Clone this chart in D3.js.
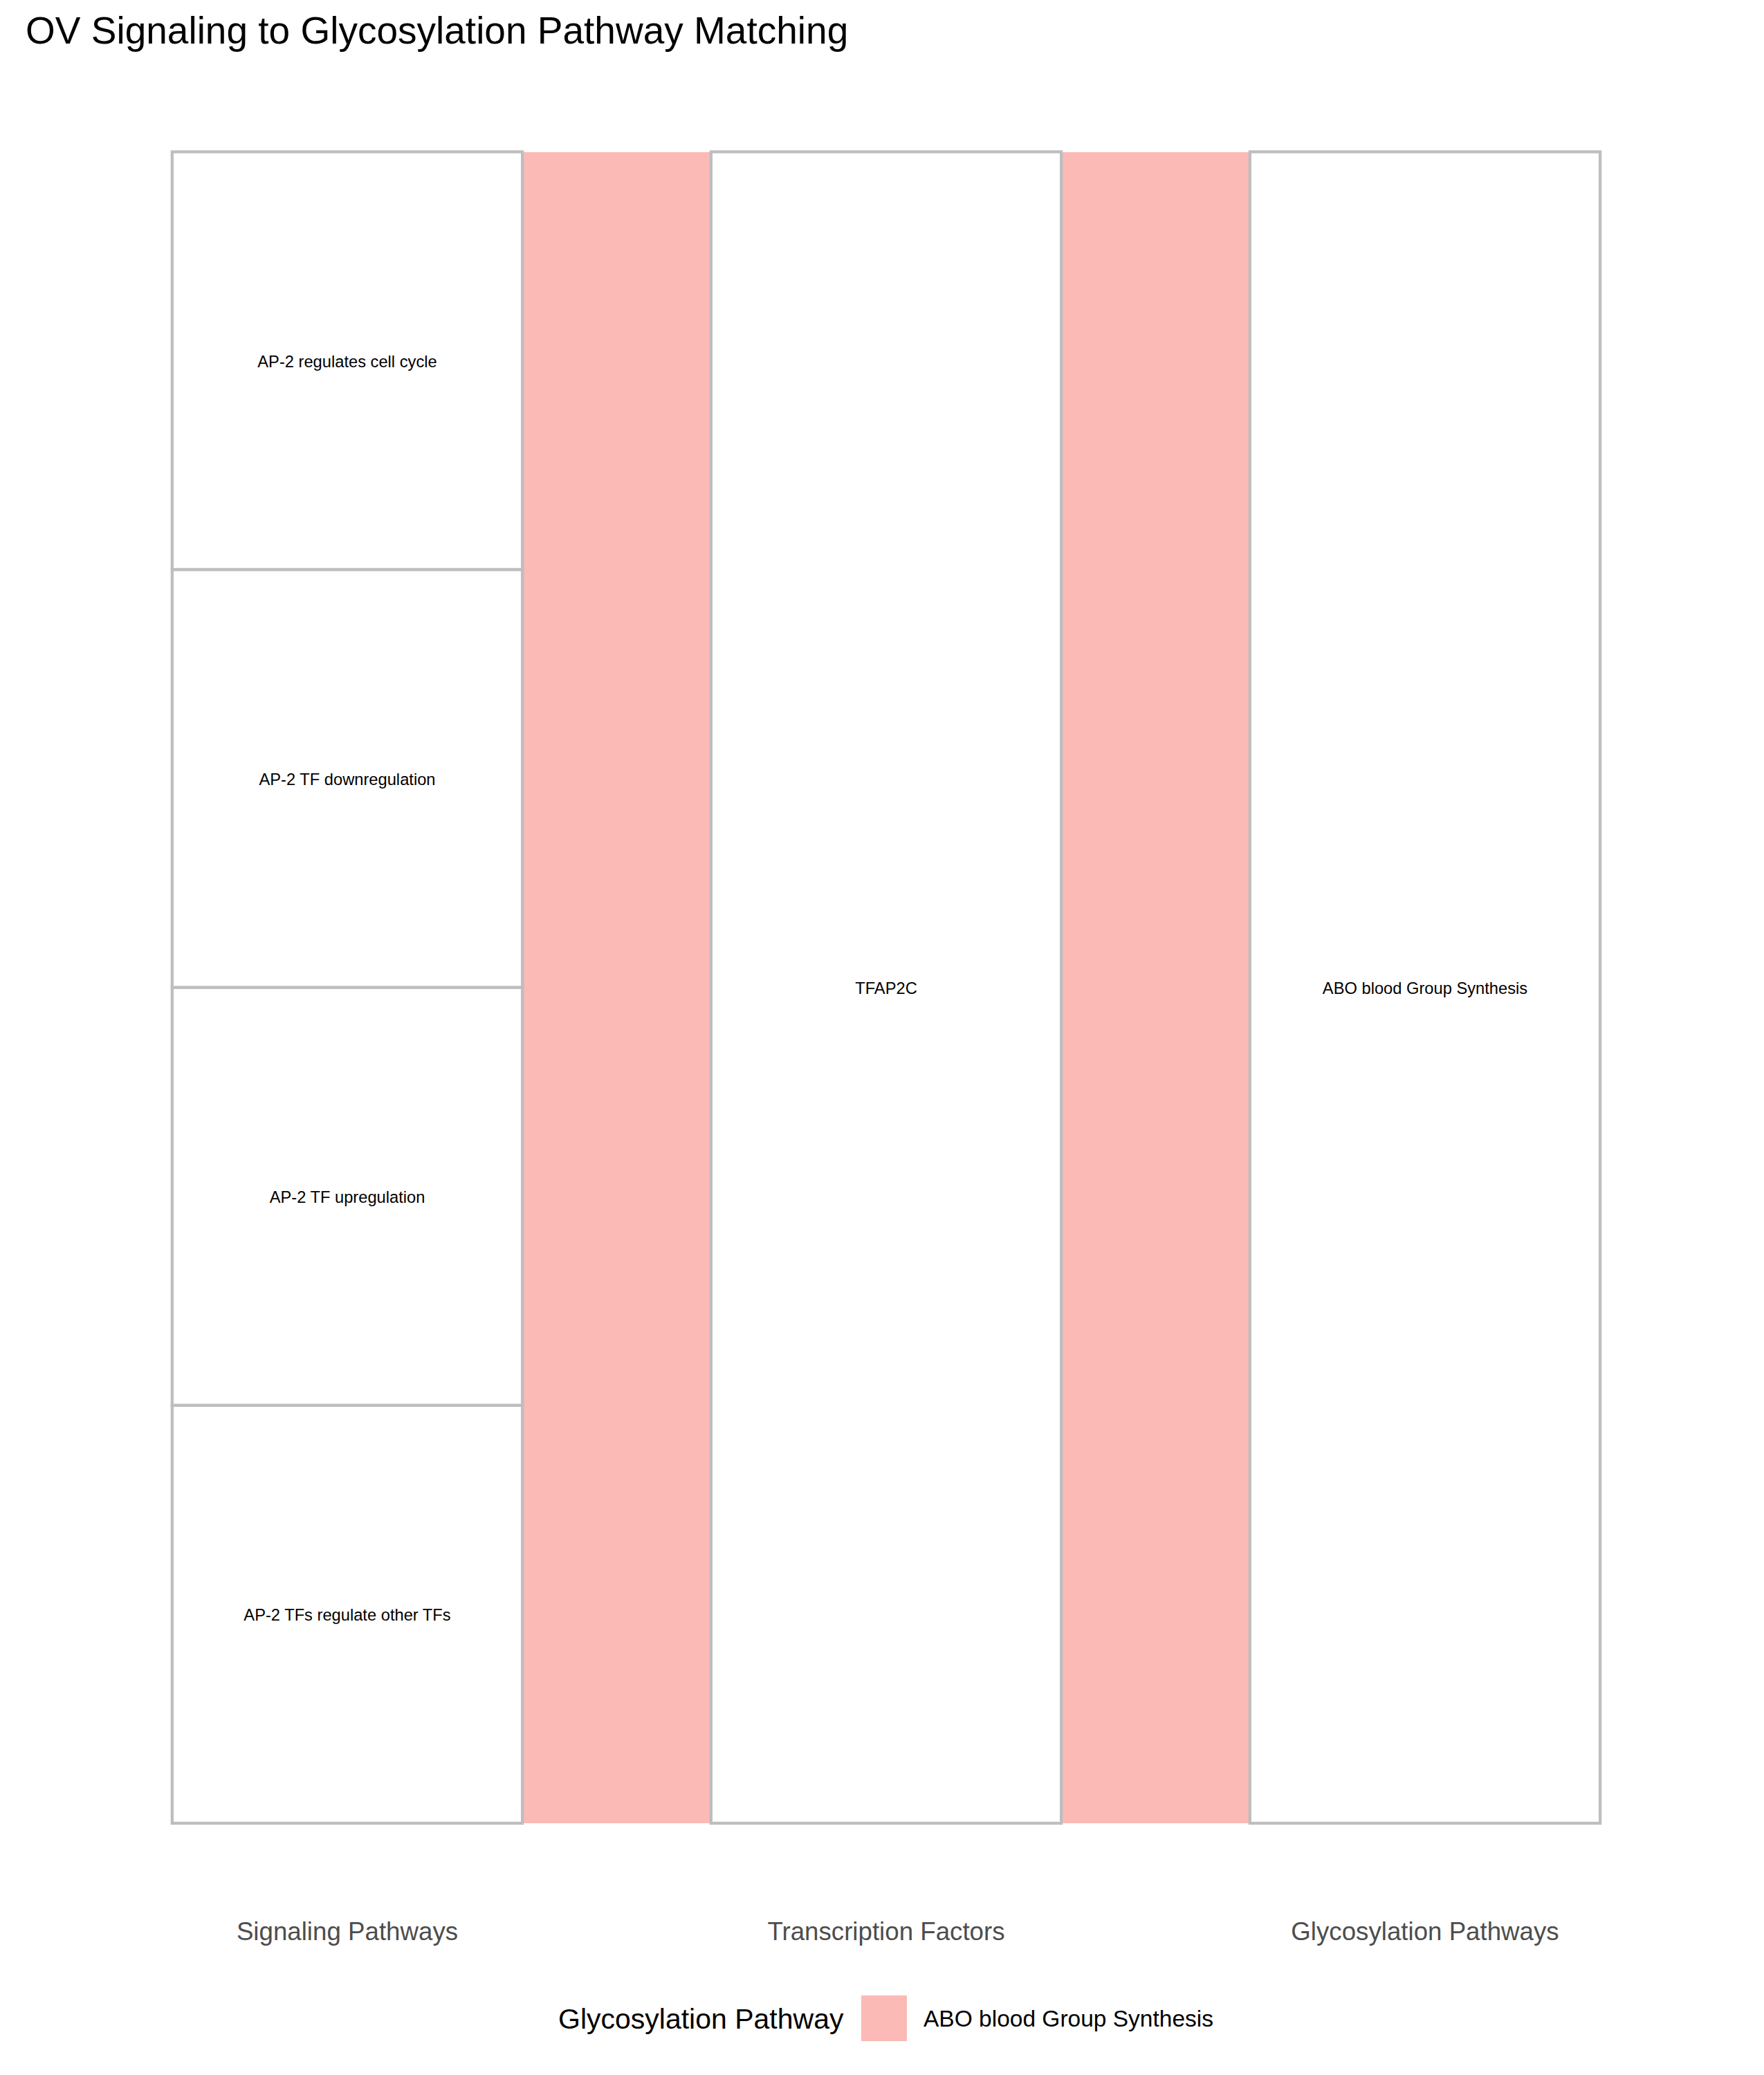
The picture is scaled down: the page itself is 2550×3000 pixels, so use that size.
<!DOCTYPE html>
<html>
<head>
<meta charset="utf-8">
<script src="https://cdn.jsdelivr.net/npm/d3@7"></script>
<style>
  html, body { margin: 0; padding: 0; background: #ffffff; }
  svg { display: block; }
  text { font-family: "Liberation Sans", Arial, Helvetica, sans-serif; }
</style>
</head>
<body>
<script>
// ---------------- DATA ----------------
const axes = ["Signaling Pathways", "Transcription Factors", "Glycosylation Pathways"];
const signaling = ["AP-2 regulates cell cycle", "AP-2 TF downregulation", "AP-2 TF upregulation", "AP-2 TFs regulate other TFs"];
const transcriptionFactor = ["TFAP2C", "TFAP2C", "TFAP2C", "TFAP2C"];
const glycosylation = ["ABO blood Group Synthesis", "ABO blood Group Synthesis", "ABO blood Group Synthesis", "ABO blood Group Synthesis"];
const counts = [1, 1, 1, 1];
const legendLevels = ["ABO blood Group Synthesis"];
const titleText = "OV Signaling to Glycosylation Pathway Matching";
const legendTitle = "Glycosylation Pathway";

// ---------------- LAYOUT ----------------
const W = 2550, H = 3000;
const svg = d3.select("body").append("svg").attr("width", W).attr("height", H);

const x = d3.scalePoint().domain(axes).range([502, 2060]);
const step = x.step();
const boxW = 0.65 * step;
const total = d3.sum(counts);
// stacking measured from the top of the column
const y = d3.scaleLinear().domain([0, total]).range([219.5, 2636]);
const color = d3.scaleOrdinal().domain(legendLevels).range(["#F8766D"]);

const columns = [signaling, transcriptionFactor, glycosylation];

const rows = counts.map((c, i) => ({ i, c }));
let acc = 0;
rows.forEach(r => { r.top = acc; acc += r.c; r.bottom = acc; });

function strataFor(col) {
  const out = [];
  rows.forEach(r => {
    const name = col[r.i];
    let s = out.find(o => o.name === name);
    if (!s) { s = { name, top: r.top, bottom: r.bottom }; out.push(s); }
    else { s.top = Math.min(s.top, r.top); s.bottom = Math.max(s.bottom, r.bottom); }
  });
  return out;
}

// ---------------- FLOWS ----------------
const flowG = svg.append("g").attr("shape-rendering", "crispEdges");
for (let a = 0; a < axes.length - 1; a++) {
  const x0 = x(axes[a]) + boxW / 2;
  const x1 = x(axes[a + 1]) - boxW / 2;
  rows.forEach(r => {
    const yt0 = y(r.top), yb0 = y(r.bottom);
    const yt1 = y(r.top), yb1 = y(r.bottom);
    const mx = (x0 + x1) / 2;
    const p = d3.path();
    p.moveTo(x0, yt0);
    p.bezierCurveTo(mx, yt0, mx, yt1, x1, yt1);
    p.lineTo(x1, yb1);
    p.bezierCurveTo(mx, yb1, mx, yb0, x0, yb0);
    p.closePath();
    flowG.append("path")
      .attr("d", p.toString())
      .attr("fill", color(glycosylation[r.i]))
      .attr("fill-opacity", 0.5)
      .attr("stroke", "none");
  });
}

// ---------------- STRATA ----------------
const strokeCol = "#BEBEBE";
axes.forEach((ax, a) => {
  const strata = strataFor(columns[a]);
  const g = svg.append("g");
  strata.forEach(s => {
    const yt = y(s.top), yb = y(s.bottom);
    g.append("rect")
      .attr("x", x(ax) - boxW / 2)
      .attr("y", yt)
      .attr("width", boxW)
      .attr("height", yb - yt)
      .attr("fill", "#ffffff")
      .attr("stroke", strokeCol)
      .attr("stroke-width", 4.3);
  });
  strata.forEach(s => {
    const cy = (y(s.top) + y(s.bottom)) / 2;
    g.append("text")
      .attr("x", x(ax))
      .attr("y", cy + 9)
      .attr("text-anchor", "middle")
      .attr("font-size", 23.7)
      .attr("fill", "#000000")
      .text(s.name);
  });
});

// ---------------- AXIS LABELS ----------------
svg.append("g").selectAll("text").data(axes).join("text")
  .attr("x", d => x(d))
  .attr("y", 2805)
  .attr("text-anchor", "middle")
  .attr("font-size", 36.7)
  .attr("fill", "#4D4D4D")
  .text(d => d);

// ---------------- TITLE ----------------
svg.append("text")
  .attr("x", 37)
  .attr("y", 63)
  .attr("font-size", 55)
  .attr("fill", "#000000")
  .text(titleText);

// ---------------- LEGEND ----------------
const lg = svg.append("g");
lg.append("text")
  .attr("x", 807)
  .attr("y", 2933)
  .attr("font-size", 41)
  .attr("fill", "#000000")
  .text(legendTitle);
legendLevels.forEach((lv, i) => {
  lg.append("rect")
    .attr("x", 1245)
    .attr("y", 2885)
    .attr("width", 66)
    .attr("height", 66)
    .attr("fill", color(lv))
    .attr("fill-opacity", 0.5);
  lg.append("text")
    .attr("x", 1335)
    .attr("y", 2930)
    .attr("font-size", 33.5)
    .attr("fill", "#000000")
    .text(lv);
});
</script>
</body>
</html>
